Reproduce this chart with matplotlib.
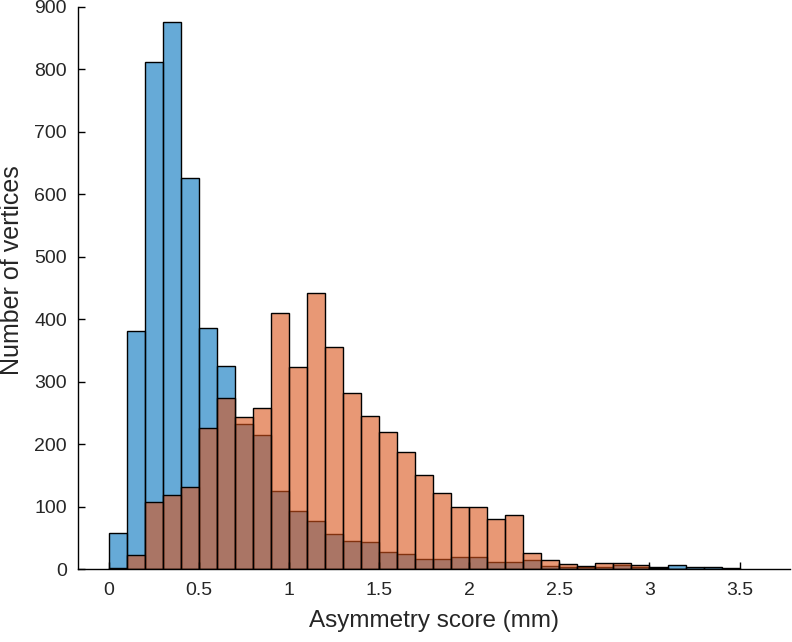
import numpy as np
import matplotlib
matplotlib.use("Agg")
import matplotlib.pyplot as plt

# Histogram counts, bin width 0.1 mm starting at 0
bin_width = 0.1
blue_counts = [58, 381, 812, 875, 625, 386, 325, 232, 214, 125,
               93, 77, 56, 45, 43, 27, 24, 16, 16, 19,
               19, 11, 11, 14, 5, 4, 3, 3, 6, 4,
               3, 6, 3, 3, 1]
orange_counts = [2, 23, 108, 118, 132, 226, 274, 244, 258, 410,
                 323, 441, 355, 281, 245, 219, 187, 150, 121, 99,
                 99, 80, 86, 26, 14, 8, 5, 10, 10, 7,
                 1, 0, 0, 0, 0]
bin_lefts = np.arange(len(blue_counts)) * bin_width

x_ticks = [0, 0.5, 1, 1.5, 2, 2.5, 3, 3.5]
y_ticks = [0, 100, 200, 300, 400, 500, 600, 700, 800, 900]

plt.rcParams['font.family'] = ['Liberation Sans', 'DejaVu Sans']
text_color = '#262626'

fig = plt.figure(figsize=(7.92, 6.42), dpi=100)
ax = fig.add_axes([0.0985, 0.1137, 0.899, 0.876])

# MATLAB default colours with FaceAlpha 0.6
blue = (0.0, 0.447, 0.741, 0.6)
orange = (0.85, 0.325, 0.098, 0.6)

ax.bar(bin_lefts, blue_counts, width=bin_width, align='edge',
       color=blue, edgecolor='black', linewidth=1.0)
ax.bar(bin_lefts, orange_counts, width=bin_width, align='edge',
       color=orange, edgecolor='black', linewidth=1.0)

ax.set_xlim(-0.172, 3.78)
ax.set_ylim(0, 900)
ax.set_xticks(x_ticks)
ax.set_xticklabels([f'{t:g}' for t in x_ticks])
ax.set_yticks(y_ticks)

for side in ['top', 'right']:
    ax.spines[side].set_visible(False)
for side in ['left', 'bottom']:
    ax.spines[side].set_linewidth(1.0)
    ax.spines[side].set_color('black')

ax.tick_params(direction='in', length=5, width=1.0, labelsize=14,
               labelcolor=text_color)
ax.tick_params(axis='x', pad=9)
ax.tick_params(axis='y', pad=8)
ax.set_xlabel('Asymmetry score (mm)', fontsize=17.5, color=text_color)
ax.set_ylabel('Number of vertices', fontsize=18, color=text_color)
ax.xaxis.set_label_coords(0.5, -0.073)
ax.yaxis.set_label_coords(-0.0755, 0.532)

fig.savefig('out.png', dpi=100)
